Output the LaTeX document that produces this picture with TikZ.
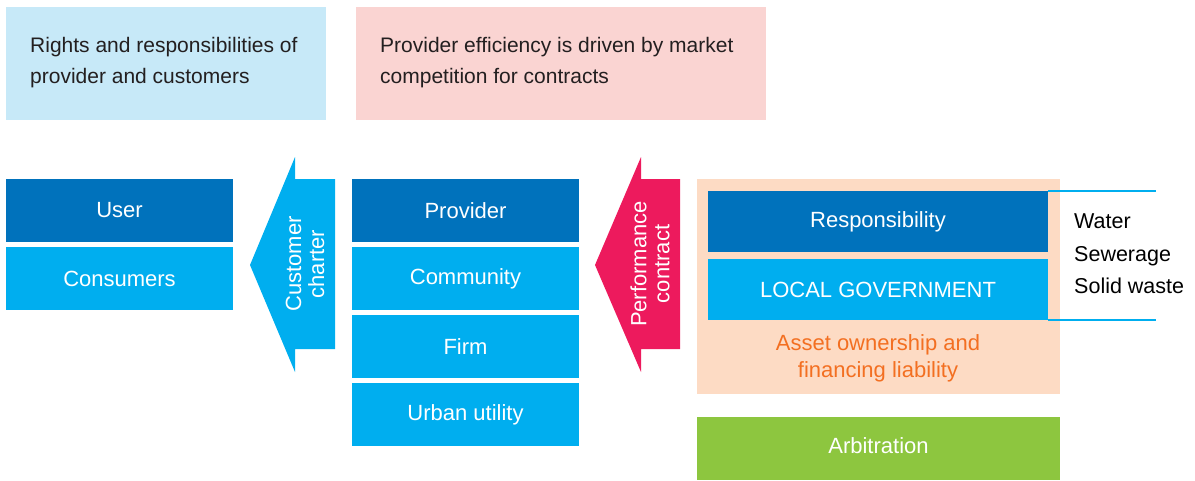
\documentclass[tikz,border=0pt]{standalone}
\usepackage{fontspec}
\setmainfont{Liberation Sans}
\definecolor{darkblue}{HTML}{0072BC}
\definecolor{midblue}{HTML}{00AEEF}
\definecolor{paleblue}{HTML}{C7E9F8}
\definecolor{palepink}{HTML}{FAD4D2}
\definecolor{magenta}{HTML}{ED1A5D}
\definecolor{peach}{HTML}{FDDBC4}
\definecolor{orangetxt}{HTML}{F36F21}
\definecolor{grassgreen}{HTML}{8DC63F}
\definecolor{inkgray}{HTML}{231F20}
\begin{document}
\begin{tikzpicture}[x=1pt,y=-1pt,
  boxlabel/.style={text=white,font=\fontsize{22}{26}\selectfont},
  note/.style={text=inkgray,font=\fontsize{21}{31}\selectfont,align=left,anchor=west,inner sep=0pt},
  arrowlabel/.style={text=white,font=\fontsize{22}{23}\selectfont,align=center,rotate=90,inner sep=0pt}]
\useasboundingbox (0,0) rectangle (1195,480);

% explanatory notes along the top
\fill[paleblue] (6,7) rectangle (326,120);
\node[note] (rights) at (30,63) {Rights and responsibilities of\\provider and customers};
\fill[palepink] (356,7) rectangle (766,120);
\node[note] (efficiency) at (380,63) {Provider efficiency is driven by market\\competition for contracts};

% user column
\fill[darkblue] (6,179) rectangle (233,242);
\node[boxlabel] (user) at (119.5,210.5) {User};
\fill[midblue] (6,247) rectangle (233,310);
\node[boxlabel] (consumers) at (119.5,278.5) {Consumers};

% customer charter arrow
\fill[midblue] (335,179) -- (295,179) -- (295,157) -- (250,265) -- (295,372) -- (295,349) -- (335,349) -- cycle;
\node[arrowlabel] (charter) at (305,264) {Customer\\charter};

% provider column
\fill[darkblue] (352,179) rectangle (579,242);
\node[boxlabel] (provider) at (465.5,210.5) {Provider};
\fill[midblue] (352,247) rectangle (579,310);
\node[boxlabel] (community) at (465.5,278.5) {Community};
\fill[midblue] (352,315) rectangle (579,378);
\node[boxlabel] (firm) at (465.5,346.5) {Firm};
\fill[midblue] (352,383) rectangle (579,446);
\node[boxlabel] (utility) at (465.5,414.5) {Urban utility};

% performance contract arrow
\fill[magenta] (680,179) -- (641,179) -- (641,157) -- (595,265) -- (641,372) -- (641,349) -- (680,349) -- cycle;
\node[arrowlabel] (contract) at (650,264) {Performance\\contract};

% local government block
\fill[peach] (697,179) rectangle (1060,394);
\fill[darkblue] (708,191) rectangle (1048,252);
\node[boxlabel] (resp) at (878,221.5) {Responsibility};
\fill[midblue] (708,259) rectangle (1048,320);
\node[boxlabel] (localgov) at (878,289.5) {LOCAL GOVERNMENT};
\node[text=orangetxt,font=\fontsize{22}{27}\selectfont,align=center,inner sep=0pt] (asset) at (878,358.5) {Asset ownership and\\financing liability};

% services bracket
\coordinate (bt) at (1156,191);
\coordinate (bb) at (1156,320);
\draw[midblue,line width=1.3pt] (1048,191) -- (bt);
\draw[midblue,line width=1.3pt] (1048,320) -- (bb);
\node[text=black,font=\fontsize{21.5}{32.5}\selectfont,align=left,anchor=west,inner sep=0pt] (services) at (1074,254) {Water\\Sewerage\\Solid waste};

% arbitration
\fill[grassgreen] (697,417) rectangle (1060,480);
\node[boxlabel] (arbitration) at (878.5,446) {Arbitration};
\end{tikzpicture}
\end{document}
